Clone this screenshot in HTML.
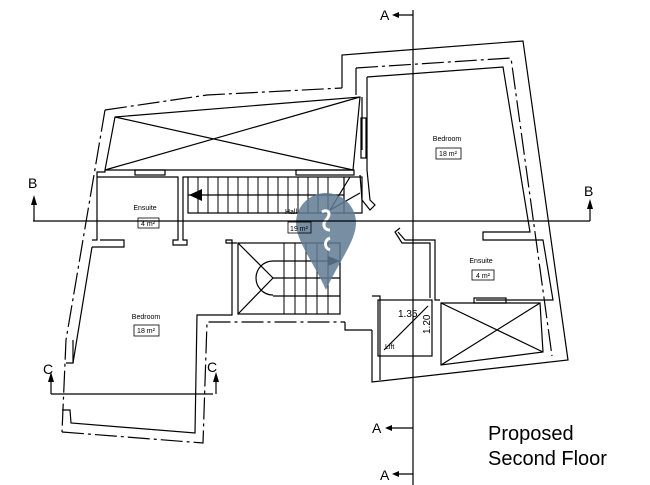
<!DOCTYPE html>
<html><head><meta charset="utf-8"><style>
html,body{margin:0;padding:0;background:#fff;}
svg{display:block;font-family:"Liberation Sans",sans-serif;}
</style></head><body>
<svg width="650" height="485" viewBox="0 0 650 485" xmlns="http://www.w3.org/2000/svg">
<g fill="none" stroke="#000" stroke-width="1.2">
<polyline points="105,110 207,95 342,88" stroke-dasharray="22,4,3,4"/>
<polyline points="342,88 342,55 523,41 568,360 372,382 372,330" />
<polyline points="356,68 511,58 552,356" stroke-dasharray="22,4,3,4"/>
<polyline points="105,110 66,340 62,432" stroke-dasharray="22,4,3,4"/>
<polyline points="62,432 203,443 207,322 345,322" stroke-dasharray="22,4,3,4"/>
<polygon points="115,117 360,97 353,170 105,170"/>
<line x1="115" y1="117" x2="353" y2="170"/>
<line x1="360" y1="97" x2="105" y2="170"/>
<polyline points="356,68 356,95"/>
<polyline points="367,77 503,67 530,232 483,232 483,240 543,240 553,300 476,300"/>
<polyline points="367,77 367,170 370,200 375,205 370,210 362,200 360,175"/>
<polyline points="362,97 362,150"/>
<rect x="361" y="118" width="5" height="40"/>
<polyline points="97,177 178,177 178,240 173,240 173,245 187,245 187,240 183,240 183,177 188,177"/>
<polyline points="105,170 105,172 97,172 97,240 92,240"/>
<polyline points="92,247 124,247 124,240 100,240"/>
<rect x="135" y="170" width="30" height="5"/>
<rect x="296" y="170" width="58" height="5"/>
<polyline points="92,247 73,363 66,363"/>
<polyline points="73,363 73,340"/>
<polyline points="62,410 70,410 71,423 195,433 197,315 232,315 232,240 226,240 226,243 237,243"/>
<rect x="188" y="177" width="174" height="36"/>
<line x1="188" y1="195" x2="344" y2="195"/>
<line x1="344" y1="177" x2="344" y2="213"/>
<line x1="330" y1="210" x2="350" y2="177"/>
<line x1="330" y1="210" x2="360" y2="193"/>
<rect x="238" y="243" width="102" height="71"/>
<line x1="238" y1="243" x2="273" y2="278"/>
<line x1="238" y1="314" x2="273" y2="278"/>
<path d="M273,261 A17,17 0 0 0 273,295"/>
<line x1="273" y1="261" x2="340" y2="261"/>
<line x1="273" y1="278" x2="340" y2="278"/>
<line x1="273" y1="296" x2="340" y2="296"/>
<polyline points="398,232 405,240 435,240 435,300 440,300"/>
<polyline points="400,228 395,232 402,243 430,243 430,298"/>
<polyline points="345,322 345,330 372,330"/>
<polyline points="372,296 380,296 380,380"/>
<rect x="378" y="300" width="54" height="56"/>
<line x1="384" y1="350" x2="428" y2="306"/>
<rect x="474" y="298" width="32" height="5"/>
<polygon points="441,303 540,303 543,352 441,365"/>
<line x1="441" y1="303" x2="543" y2="352"/>
<line x1="540" y1="303" x2="441" y2="365"/>
</g>
<g stroke="#000" stroke-width="1">
<path d="M198,177 V213 M208,177 V213 M218,177 V213 M228,177 V213 M238,177 V213 M248,177 V213 M258,177 V213 M268,177 V213 M278,177 V213 M288,177 V213 M298,177 V213 M308,177 V213 M318,177 V213 M328,177 V213"/>
<path d="M284,243 V314 M295,243 V314 M306,243 V314 M317,243 V314 M328,243 V314"/>
</g>
<polygon points="189,195 202,189 202,201" fill="#000"/>
<polygon points="340,261 328,256 328,266" fill="#000"/>
<path d="M326,193 a30,30 0 0 1 30,30 c0,18 -18,40 -30,67 c-12,-27 -30,-49 -30,-67 a30,30 0 0 1 30,-30z" fill="#5f7a93" opacity="0.85"/>
<path d="M322,212 c6,-4 10,2 4,8 c-4,4 -2,10 4,10 M330,238 c-6,2 -6,10 0,12" stroke="#fff" stroke-width="3" fill="none"/>
<g stroke="#000" stroke-width="1.2" fill="none">
<line x1="413" y1="10" x2="413" y2="485"/>
<line x1="395" y1="15" x2="413" y2="15"/>
<line x1="388" y1="428" x2="413" y2="428"/>
<line x1="395" y1="474" x2="413" y2="474"/>
<line x1="33" y1="221" x2="590" y2="221"/>
<line x1="34" y1="205" x2="34" y2="221"/>
<line x1="590" y1="205" x2="590" y2="221"/>
<line x1="51" y1="394" x2="213" y2="394"/>
<line x1="51" y1="378" x2="51" y2="394"/>
<line x1="216" y1="378" x2="216" y2="394"/>
</g>
<g fill="#000">
<polygon points="392,15 399,12 399,18"/>
<polygon points="385,428 392,425 392,431"/>
<polygon points="392,474 399,471 399,477"/>
<polygon points="34,195 31,205 37,205"/>
<polygon points="590,199 587,209 593,209"/>
<polygon points="51,372 48,382 54,382"/>
<polygon points="216,372 213,382 219,382"/>
</g>
<g font-size="14" fill="#000">
<text x="380" y="20">A</text>
<text x="372" y="433">A</text>
<text x="380" y="480">A</text>
<text x="28" y="188">B</text>
<text x="584" y="196">B</text>
<text x="43" y="374">C</text>
<text x="207" y="372">C</text>
</g>
<g font-size="10" fill="#000">
<text x="398" y="317">1.35</text>
<text x="430" y="334" transform="rotate(-90 430 334)">1.20</text>
<text x="385" y="349" font-size="7">Lift</text>
</g>
<g font-size="7" fill="#000" text-anchor="middle">
<text x="447" y="141">Bedroom</text>
<text x="145" y="210">Ensuite</text>
<text x="291" y="214">Hall</text>
<text x="146" y="319">Bedroom</text>
<text x="481" y="263">Ensuite</text>
<text x="448" y="156">18 m²</text>
<text x="148" y="226">4 m²</text>
<text x="299" y="231">19 m²</text>
<text x="146" y="333">18 m²</text>
<text x="483" y="278">4 m²</text>
</g>
<g fill="none" stroke="#000" stroke-width="0.8">
<rect x="436" y="148" width="25" height="11"/>
<rect x="138" y="218" width="21" height="10"/>
<rect x="288" y="222" width="23" height="11"/>
<rect x="134" y="325" width="25" height="11"/>
<rect x="472" y="270" width="22" height="10"/>
</g>
<text x="488" y="440" font-size="20" fill="#000">Proposed</text>
<text x="488" y="465" font-size="20" fill="#000">Second Floor</text>
</svg>
</body></html>
